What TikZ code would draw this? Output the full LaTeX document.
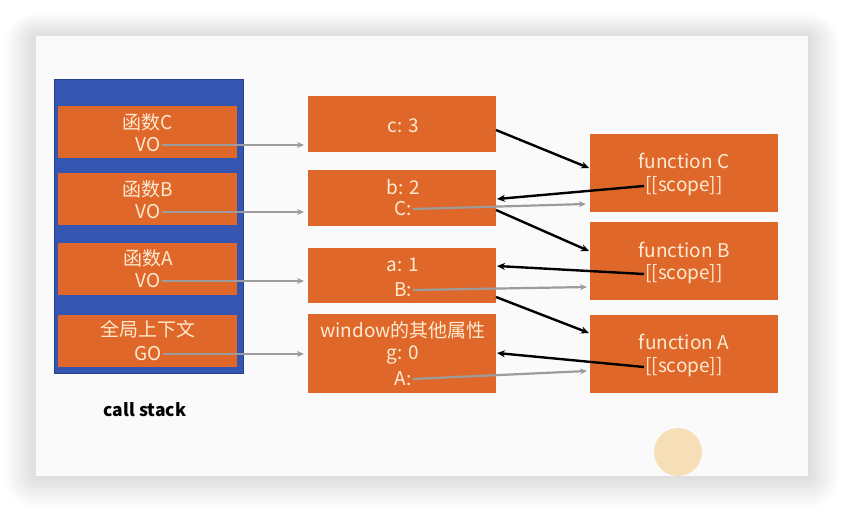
\documentclass[tikz,border=0pt]{standalone}
\usepackage{fontspec}
\setmainfont{Noto Sans CJK SC}
\usetikzlibrary{arrows.meta}
\definecolor{org}{HTML}{E0672A}
\definecolor{stackblue}{HTML}{3456B0}
\definecolor{stackedge}{HTML}{24408C}
\definecolor{cream}{HTML}{FCEBD2}
\definecolor{grayarrow}{HTML}{9C9C9C}
\definecolor{slidebg}{HTML}{FAFAFA}
\definecolor{cursor}{HTML}{F6D8A6}
\tikzset{
  obox/.style={fill=org, draw=none, anchor=north west, inner sep=0pt, outer sep=0pt},
  txt/.style={text=cream, font=\fontsize{19}{22}\selectfont, inner sep=1pt},
  garrow/.style={draw=grayarrow, line width=2.2pt, -{Stealth[length=7pt,width=6pt]}},
  barrow/.style={draw=black, line width=2.4pt, -{Stealth[length=8pt,width=7pt]}},
}
\begin{document}
\begin{tikzpicture}[x=1pt,y=-1pt]
\useasboundingbox (0,0) rectangle (844,512);
\fill[white] (0,0) rectangle (844,512);
% soft shadow around the slide
\foreach \d in {32,30,...,2} {
  \fill[black, opacity=0.008, rounded corners=\d pt] (36-\d,36-\d*0.7) rectangle (808+\d,476+\d);
}
\fill[slidebg] (36,36) rectangle (808,476);
\fill[cursor, opacity=0.8] (678,452) circle (24);
% call stack
\node[fill=stackblue, draw=stackedge, line width=1pt, anchor=north west, minimum width=189pt, minimum height=294pt, inner sep=0pt] (stack) at (54,79) {};
\node[obox, minimum width=179pt, minimum height=52pt] (sC) at (58,106) {};
\node[obox, minimum width=179pt, minimum height=52pt] (sB) at (58,173) {};
\node[obox, minimum width=179pt, minimum height=52pt] (sA) at (58,243) {};
\node[obox, minimum width=179pt, minimum height=52pt] (sG) at (58,315) {};
\node[txt] (nC) at (148,122) {函数C};
\node[txt] (voC) at (148,145) {VO};
\node[txt] (nB) at (148,189) {函数B};
\node[txt] (voB) at (148,212) {VO};
\node[txt] (nA) at (148,258) {函数A};
\node[txt] (voA) at (148,281) {VO};
\node[txt] (nG) at (148,329) {全局上下文};
\node[txt] (goG) at (148,354) {GO};
\node[font=\bfseries\fontsize{17.5}{20}\selectfont, text=black] (cs) at (145,410) {call stack};
% middle
\node[obox, minimum width=188pt, minimum height=56pt] (mC) at (308,96) {};
\node[obox, minimum width=188pt, minimum height=56pt] (mB) at (308,170) {};
\node[obox, minimum width=188pt, minimum height=55pt] (mA) at (308,248) {};
\node[obox, minimum width=188pt, minimum height=79pt] (mG) at (308,314) {};
\node[txt] (c3) at (403,126) {c: 3};
\node[txt] (b2) at (403,187) {b: 2};
\node[txt] (Cv) at (403,209) {C:};
\node[txt] (a1) at (403,265) {a: 1};
\node[txt] (Bv) at (403,290) {B:};
\node[txt] (win) at (403,330) {window的其他属性};
\node[txt] (g0) at (403,355) {g: 0};
\node[txt] (Av) at (403,379) {A:};
% right
\node[obox, minimum width=188pt, minimum height=78pt] (fC) at (590,134) {};
\node[obox, minimum width=188pt, minimum height=78pt] (fB) at (590,222) {};
\node[obox, minimum width=188pt, minimum height=78pt] (fA) at (590,315) {};
\node[txt] (fCt) at (684,161) {function C};
\node[txt] (sCt) at (684,186) {[[scope]]};
\node[txt] (fBt) at (684,250) {function B};
\node[txt] (sBt) at (684,274) {[[scope]]};
\node[txt] (fAt) at (684,342) {function A};
\node[txt] (sAt) at (684,367) {[[scope]]};
% coordinates
\coordinate (eC) at (304,145);
\coordinate (eB) at (304,212);
\coordinate (eA) at (304,281);
\coordinate (eG) at (304,354);
\coordinate (mC1) at (496,130);
\coordinate (fC1) at (589,168);
\coordinate (mB1) at (496,210);
\coordinate (fB1) at (589,251);
\coordinate (mA1) at (496,297);
\coordinate (fA1) at (589,333);
\coordinate (mB2) at (497,199);
\coordinate (mA2) at (497,266);
\coordinate (mG2) at (497,353);
\coordinate (fC2) at (586,204);
\coordinate (fB2) at (587,287);
\coordinate (fA2) at (587,371);
% gray arrows
\draw[garrow] (voC.east) -- (eC);
\draw[garrow] (voB.east) -- (eB);
\draw[garrow] (voA.east) -- (eA);
\draw[garrow] (goG.east) -- (eG);
\draw[garrow] (Cv.east) -- (fC2);
\draw[garrow] (Bv.east) -- (fB2);
\draw[garrow] (Av.east) -- (fA2);
% black arrows
\draw[barrow] (mC1) -- (fC1);
\draw[barrow] (mB1) -- (fB1);
\draw[barrow] (mA1) -- (fA1);
\draw[barrow] (sCt.west) -- (mB2);
\draw[barrow] (sBt.west) -- (mA2);
\draw[barrow] (sAt.west) -- (mG2);
\end{tikzpicture}
\end{document}
